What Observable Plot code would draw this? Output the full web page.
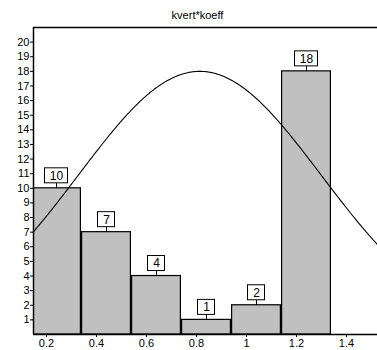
<!DOCTYPE html>
<html>
<head>
<meta charset="utf-8">
<script src="https://cdn.jsdelivr.net/npm/d3@7"></script>
<script src="https://cdn.jsdelivr.net/npm/@observablehq/plot@0.6"></script>
<style>
  body { margin: 0; background: #fff; }
  svg { display: block; }
</style>
</head>
<body>
<div id="chart"></div>
<script>
// Histogram of kvert*koeff: bin starts, bin width and counts
const binStarts = [0.14, 0.34, 0.54, 0.74, 0.94, 1.14];
const binWidth = 0.2;
const counts = [10, 7, 4, 1, 2, 18];

// Axis ticks
const yTicks = [1, 2, 3, 4, 5, 6, 7, 8, 9, 10, 11, 12, 13, 14, 15, 16, 17, 18, 19, 20];
const xTicks = [0.2, 0.4, 0.6, 0.8, 1, 1.2, 1.4];
const xTickLabels = ["0.2", "0.4", "0.6", "0.8", "1", "1.2", "1.4"];

// Overlaid normal curve (mean, standard deviation, peak height)
const curveMean = 0.813;
const curveSd = 0.485;
const curvePeak = 18;

const xDomain = [0.148, 1.524];
const yDomain = [0, 21];

const bins = binStarts.map((x0, i) => ({
  x0, x1: x0 + binWidth, mid: x0 + binWidth / 2, count: counts[i], label: String(counts[i])
}));

const curve = d3.range(xDomain[0], xDomain[1] + 0.001, 0.004).map(x => ({
  x, y: curvePeak * Math.exp(-((x - curveMean) ** 2) / (2 * curveSd ** 2))
}));

const font = "Liberation Sans, Arial, sans-serif";

const chart = Plot.plot({
  width: 377,
  height: 350,
  marginLeft: 33,
  marginRight: 0,
  marginTop: 27,
  marginBottom: 16,
  style: { fontFamily: font, fontSize: "11px", color: "#000", background: "#fff" },
  x: { domain: xDomain },
  y: { domain: yDomain },
  marks: [
    Plot.rectY(bins, {
      x1: "x0", x2: "x1", y1: 0, y2: "count",
      fill: "#c0c0c0", stroke: "#000", strokeWidth: 1.2,
      insetLeft: 0.6, insetRight: 0.6, clip: true
    }),
    Plot.line(curve, { x: "x", y: "y", stroke: "#000", strokeWidth: 1.1, clip: true }),
    // value boxes above each bar
    Plot.ruleX(bins, { x: "mid", y1: "count", y2: "count", insetTop: 0, insetBottom: 5, stroke: "#000", strokeWidth: 1 }),
    Plot.rect(bins.filter(d => d.label.length > 1), {
      x1: "mid", x2: "mid", y1: "count", y2: "count",
      insetLeft: -11.5, insetRight: -11.5, insetTop: -20, insetBottom: 5,
      fill: "#fff", stroke: "#000", strokeWidth: 1
    }),
    Plot.rect(bins.filter(d => d.label.length === 1), {
      x1: "mid", x2: "mid", y1: "count", y2: "count",
      insetLeft: -8.5, insetRight: -8.5, insetTop: -20, insetBottom: 5,
      fill: "#fff", stroke: "#000", strokeWidth: 1
    }),
    Plot.text(bins, {
      x: "mid", y: "count", text: "label", dy: -12.5,
      fontSize: 12, fill: "#000", textAnchor: "middle"
    }),
    // frame: top, left and bottom lines
    Plot.ruleY([yDomain[1]], { stroke: "#000", strokeWidth: 1.3 }),
    Plot.ruleX([xDomain[0]], { stroke: "#000", strokeWidth: 1.5 }),
    Plot.ruleY([0], { stroke: "#000", strokeWidth: 1.5 }),
    Plot.axisY({ ticks: yTicks, tickSize: 3, tickPadding: 1, label: null, tickFormat: d => String(d), fontSize: 11 }),
    Plot.axisX({ ticks: xTicks, tickSize: 3, tickPadding: 2, label: null,
      tickFormat: d => xTickLabels[xTicks.indexOf(d)], fontSize: 11 }),
    Plot.text(["kvert*koeff"], { frameAnchor: "top", lineAnchor: "middle", dy: -12, dx: -8, fontSize: 11, fill: "#000" })
  ]
});

document.getElementById("chart").append(chart);
</script>
</body>
</html>
